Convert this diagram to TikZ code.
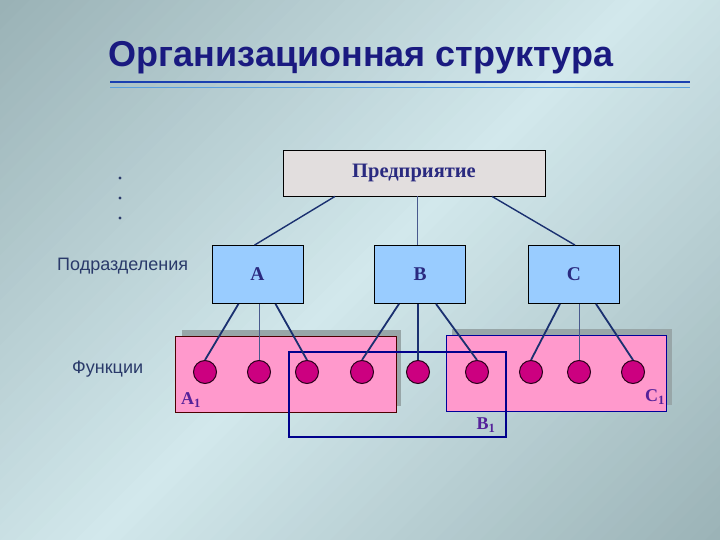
\documentclass[tikz,border=0pt]{standalone}
\usepackage{fontspec}
\setmainfont{Liberation Serif}
\newfontfamily\sansf{Liberation Sans}
\definecolor{navy}{HTML}{1A1A80}
\definecolor{lblue}{HTML}{99CCFF}
\definecolor{egray}{HTML}{E2DEDE}
\definecolor{pinkf}{HTML}{FF99CC}
\definecolor{mag}{HTML}{CC0080}
\definecolor{lnc}{HTML}{1A3070}
\definecolor{lab}{HTML}{2A3A6A}
\definecolor{txp}{HTML}{2A2A80}
\definecolor{shad}{HTML}{98A6A8}
\definecolor{bgdark}{HTML}{9AB2B6}
\definecolor{bglight}{HTML}{D2E8EC}
\definecolor{line1}{HTML}{1A40B0}
\definecolor{line2}{HTML}{5AA0E0}
\tikzset{
  ubox/.style={draw=black,line width=0.8pt,fill=lblue,minimum width=91pt,minimum height=58pt,inner sep=0pt,font=\bfseries\fontsize{19.5}{20}\selectfont,text=txp},
  circ/.style={circle,draw=black!80!mag,line width=1pt,fill=mag,minimum size=23pt,inner sep=0pt},
  conn/.style={draw=lnc,line width=1.8pt},
  thinconn/.style={draw=lnc!80!white,line width=1pt},
  sub/.style={font=\bfseries\fontsize{18}{20}\selectfont,text=txp!80!magenta,inner sep=0pt},
  side/.style={font=\sansf\fontsize{18}{20}\selectfont,text=lab,inner sep=0pt},
}
\begin{document}
\begin{tikzpicture}[x=1pt,y=-1pt]
\useasboundingbox (0,0) rectangle (720,540);
% diagonal gradient background
\begin{scope}
\clip (0,0) rectangle (720,540);
\foreach \i in {0,...,83} {
  \pgfmathsetmacro\s{\i*15}
  \pgfmathsetmacro\m{\s<630 ? \s/6.3 : (1260-\s)/6.3}
  \fill[bglight!\m!bgdark] (\s,0) -- (\s+16,0) -- (\s-524,540) -- (\s-540,540) -- cycle;
}
\end{scope}
% title
\node[font=\sansf\bfseries\fontsize{36}{40}\selectfont,text=navy,anchor=base] (title) at (361,67) {Организационная структура};
\draw[draw=line1,line width=2.5pt] (110,82) -- (690,82);
\draw[draw=line2,line width=1.8pt] (110,87.5) -- (690,87.5);
% dots
\node[circle,fill=lab,inner sep=1.1pt] (d1) at (120,178) {};
\node[circle,fill=lab,inner sep=1.1pt] (d2) at (120,198) {};
\node[circle,fill=lab,inner sep=1.1pt] (d3) at (120,218) {};
% side labels
\node[side,anchor=west] (podr) at (57,266) {Подразделения};
\node[side,anchor=west] (func) at (72,369) {Функции};
% enterprise
\node[draw=black,line width=0.8pt,fill=egray,minimum width=262pt,minimum height=46pt,inner sep=0pt,font=\bfseries\fontsize{20.5}{22}\selectfont,text=txp] (ent) at (414,173) {Предприятие};
% units
\node[ubox] (A) at (257.5,274.5) {A};
\node[ubox] (B) at (420,274.5) {B};
\node[ubox] (C) at (574,274.5) {C};
% enterprise links
\draw[conn,line width=1.4pt] ([xshift=-79pt]ent.south) -- ([xshift=-3pt]A.north);
\draw[thinconn,line width=0.9pt] ([xshift=3pt]ent.south) -- ([xshift=-3pt]B.north);
\draw[conn,line width=1.4pt] ([xshift=78pt]ent.south) -- ([xshift=1pt]C.north);
% pink boxes with shadows
\fill[shad] (182,330) rectangle (401,406);
\fill[shad] (452,329) rectangle (672,405);
\node[draw=black!70!red,line width=0.8pt,fill=pinkf,minimum width=221pt,minimum height=76pt,inner sep=0pt] (A1) at (285.5,374) {};
\node[draw=blue!60!black,line width=0.8pt,fill=pinkf,minimum width=220pt,minimum height=76pt,inner sep=0pt] (C1) at (556,373) {};
% B1 frame
\node[draw=blue!55!black,line width=1.8pt,minimum width=217pt,minimum height=85pt,inner sep=0pt] (B1) at (397.5,394.5) {};
% circles
\foreach \i/\x in {1/205,2/259,3/307,4/362,5/418,6/477,7/531,8/579,9/633}
  \node[circ] (c\i) at (\x,372) {};
% unit links
\draw[conn] ([xshift=-19pt]A.south) -- (c1.north);
\draw[thinconn] ([xshift=1.5pt]A.south) -- (c2.north);
\draw[conn] ([xshift=18pt]A.south) -- (c3.north);
\draw[conn] ([xshift=-21pt]B.south) -- (c4.north);
\draw[conn,line width=2.4pt] ([xshift=-2pt]B.south) -- (c5.north);
\draw[conn] ([xshift=16pt]B.south) -- (c6.north);
\draw[conn] ([xshift=-14pt]C.south) -- (c7.north);
\draw[thinconn] ([xshift=5pt]C.south) -- (c8.north);
\draw[conn] ([xshift=22pt]C.south) -- (c9.north);
% labels
\node[sub] (la) at (191,400) {A\textsubscript{1}};
\node[sub] (lb) at (486,425) {B\textsubscript{1}};
\node[sub] (lc) at (655,397) {C\textsubscript{1}};
\end{tikzpicture}
\end{document}
